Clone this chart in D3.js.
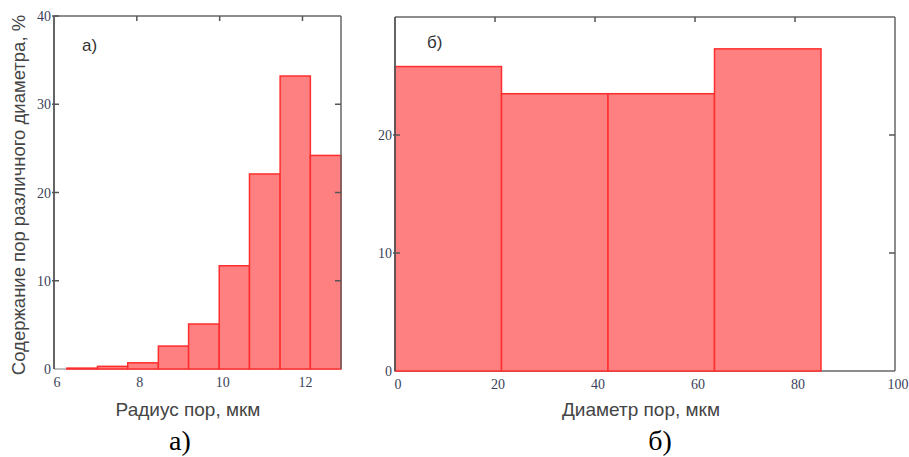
<!DOCTYPE html>
<html><head><meta charset="utf-8">
<script src="https://cdn.jsdelivr.net/npm/d3@7"></script>
<style>body{margin:0;background:#fff}svg{display:block}</style>
</head><body>
<svg id="c" width="909" height="457"></svg>
<script>
// Chart a) — pore radius histogram
const binEdgesA = [6.31, 7.05, 7.78, 8.52, 9.25, 9.99, 10.72, 11.46, 12.19, 12.93];
const valuesA = [0.1, 0.3, 0.7, 2.6, 5.1, 11.7, 22.1, 33.2, 24.2];
const xTicksA = [6, 8, 10, 12];
const yTicksA = [0, 10, 20, 30, 40];
// Chart б) — pore diameter histogram
const binEdgesB = [0, 21.3, 42.6, 63.9, 85.2];
const valuesB = [25.8, 23.5, 23.5, 27.3];
const xTicksB = [0, 20, 40, 60, 80, 100];
const yTicksB = [0, 10, 20];
const yTicksBInner = [10, 20];

const svg = d3.select("#c");
const fill = "#ff8080", stroke = "#ff2e2e";
const tickFont = "Liberation Serif";
const tickColor = "#3b3f58";
const sans = "Liberation Sans";

function panel(o) {
  const g = svg.append("g");
  const x = d3.scaleLinear().domain(o.xDom).range([o.l, o.r]);
  const y = d3.scaleLinear().domain(o.yDom).range([o.b, o.t]);
  g.append("line").attr("x1", o.l).attr("x2", o.r).attr("y1", o.b).attr("y2", o.b).attr("stroke", o.bottomColor).attr("stroke-width", 1.5);
  const bins = o.values.map((v, i) => ({x0: o.edges[i], x1: o.edges[i + 1], v}));
  g.selectAll("rect.bar").data(bins).join("rect")
    .attr("x", d => x(d.x0)).attr("width", d => x(d.x1) - x(d.x0))
    .attr("y", d => y(d.v)).attr("height", d => y(0) - y(d.v))
    .attr("fill", fill).attr("stroke", stroke).attr("stroke-width", 1.5);
  g.append("line").attr("x1", o.l).attr("x2", o.r).attr("y1", o.t).attr("y2", o.t).attr("stroke", "#666").attr("stroke-width", 1.5);
  g.append("line").attr("x1", o.r).attr("x2", o.r).attr("y1", o.t).attr("y2", o.b).attr("stroke", "#666").attr("stroke-width", 1.5);
  g.append("line").attr("x1", o.l).attr("x2", o.l).attr("y1", o.t).attr("y2", o.b).attr("stroke", "#555").attr("stroke-width", 1.8);
  g.selectAll("line.tt").data(o.xTicks.filter(t => t > o.xDom[0] && t < o.xDom[1])).join("line")
    .attr("x1", d => x(d)).attr("x2", d => x(d)).attr("y1", o.t).attr("y2", o.t + 5)
    .attr("stroke", "#555").attr("stroke-width", 1.5);
  g.selectAll("line.rt").data(o.yInner).join("line")
    .attr("x1", o.r).attr("x2", o.r - 6).attr("y1", d => y(d)).attr("y2", d => y(d))
    .attr("stroke", "#555").attr("stroke-width", 1.5);
  g.selectAll("line.lt").data(o.yTicks.filter(t => t > 0)).join("line")
    .attr("x1", o.l - 2).attr("x2", o.l + 5).attr("y1", d => y(d)).attr("y2", d => y(d))
    .attr("stroke", "#555").attr("stroke-width", 1.5);
  g.selectAll("text.xl").data(o.xTicks).join("text")
    .attr("x", d => x(d) + 3).attr("y", o.b + 18).attr("text-anchor", "middle")
    .attr("font-family", tickFont).attr("font-size", 14).attr("fill", tickColor).text(d => d);
  g.selectAll("text.yl").data(o.yTicks).join("text")
    .attr("x", o.l - 3).attr("y", d => y(d) + 5).attr("text-anchor", "end")
    .attr("font-family", tickFont).attr("font-size", 14).attr("fill", tickColor).text(d => d);
  g.append("text").attr("x", o.lblX).attr("y", o.lblY).attr("font-family", sans)
    .attr("font-size", 17).attr("fill", "#333").text(o.label);
  g.append("text").attr("x", o.titleX).attr("y", 416).attr("text-anchor", "middle")
    .attr("font-family", sans).attr("font-size", 19).attr("fill", "#444").text(o.xTitle);
  g.append("text").attr("x", o.capX).attr("y", 450).attr("text-anchor", "middle")
    .attr("font-family", "Liberation Serif").attr("font-size", 28).attr("fill", "#000").text(o.label);
  return g;
}

panel({l: 54, r: 341, t: 16, b: 369, xDom: [6, 12.93], yDom: [0, 40], edges: binEdgesA, values: valuesA,
  xTicks: xTicksA, yTicks: yTicksA, yInner: [10, 20, 30], label: "а)", lblX: 82, lblY: 51,
  xTitle: "Радиус пор, мкм", titleX: 188, capX: 180, bottomColor: "#aaa"});
panel({l: 395, r: 895, t: 17, b: 371, xDom: [0, 100], yDom: [0, 30], edges: binEdgesB, values: valuesB,
  xTicks: xTicksB, yTicks: yTicksB, yInner: yTicksBInner, label: "б)", lblX: 427, lblY: 48,
  xTitle: "Диаметр пор, мкм", titleX: 641, capX: 660, bottomColor: "#666"});

svg.append("text").attr("transform", "translate(25,195) rotate(-90)").attr("text-anchor", "middle")
  .attr("font-family", sans).attr("font-size", 18.5).attr("fill", "#444")
  .text("Содержание пор различного диаметра, %");
</script>
</body></html>
